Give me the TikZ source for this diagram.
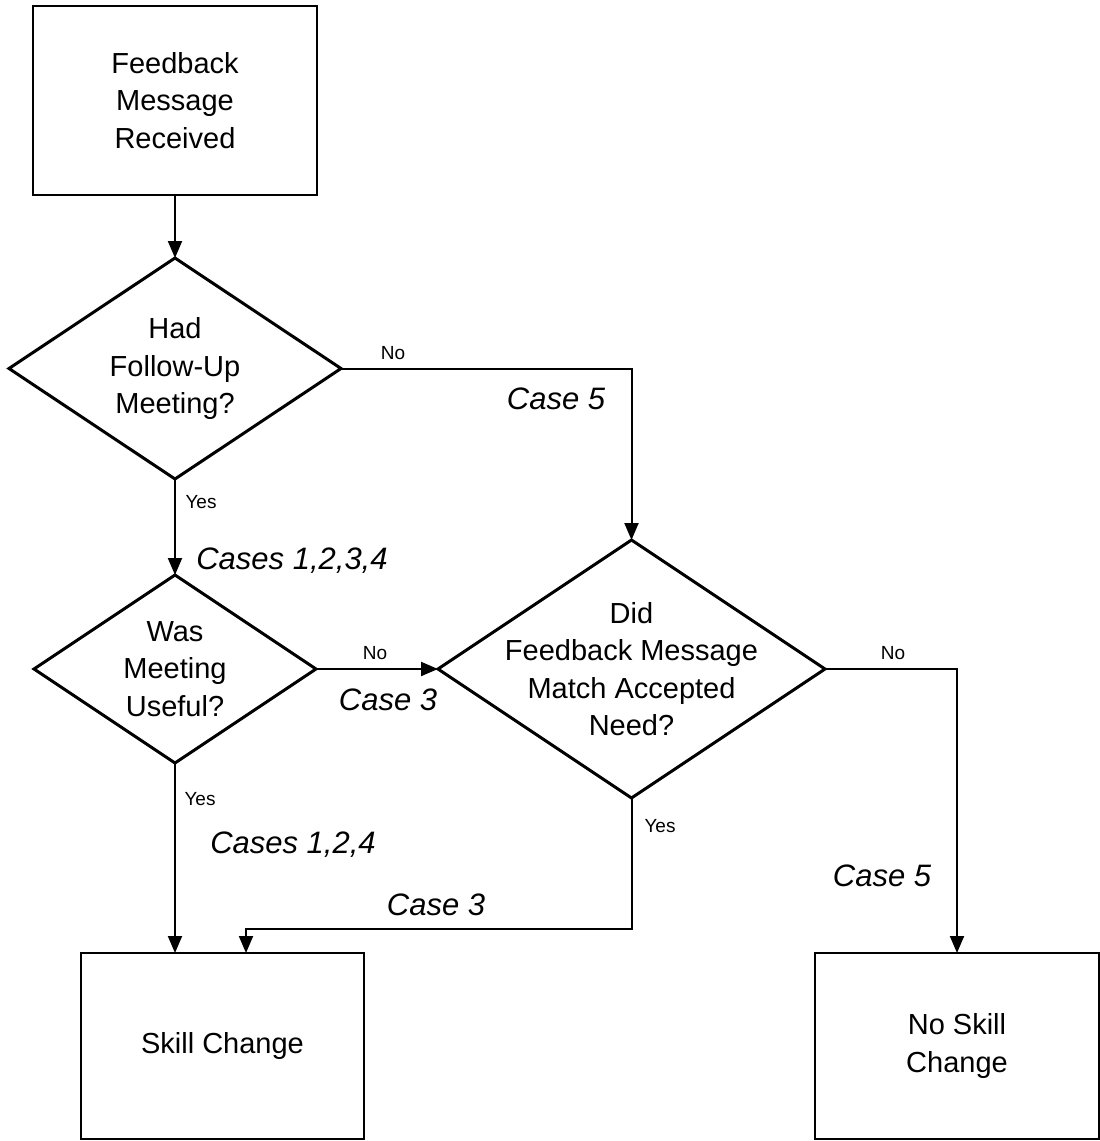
\documentclass[tikz,border=0pt]{standalone}
\usepackage{fontspec}
\setmainfont{Liberation Sans}
\usetikzlibrary{shapes.geometric,arrows.meta,calc}
\newcommand{\fbodytxt}{\fontsize{29}{37.5}\selectfont}
\newcommand{\flabtxt}{\fontsize{31}{37}\selectfont\itshape}
\newcommand{\fsmalltxt}{\fontsize{19}{22}\selectfont}
\begin{document}
\begin{tikzpicture}[x=1pt,y=-1pt,
  box/.style={draw, line width=2.5pt, rectangle, inner sep=0pt, outer sep=0pt, align=center, font=\fbodytxt},
  dia/.style={draw, line width=3pt, diamond, inner sep=0pt, outer sep=0pt},
  txt/.style={align=center, font=\fbodytxt, inner sep=0pt},
  arr/.style={line width=2pt, -{Triangle[length=17pt,width=14pt]}},
  lab/.style={font=\flabtxt, inner sep=0pt},
  small/.style={font=\fsmalltxt, inner sep=0pt}]
\useasboundingbox (0,0) rectangle (1100,1141);
\fill[white] (0,0) rectangle (1100,1141);

% boxes
\node[box, minimum width=284pt, minimum height=189pt] (start) at (175,100.5) {Feedback\\Message\\Received};
\node[box, minimum width=283pt, minimum height=186pt] (sc) at (222.5,1046) {Skill Change};
\node[box, minimum width=284pt, minimum height=186pt] (nsc) at (957,1046) {No Skill\\Change};

% diamonds
\node[dia, minimum width=332pt, minimum height=221pt] (d1) at (175,368.5) {};
\node[txt] (t1) at (d1.center) {Had\\Follow-Up\\Meeting?};
\node[dia, minimum width=282pt, minimum height=188pt] (d2) at (175,669) {};
\node[txt] (t2) at (d2.center) {Was\\Meeting\\Useful?};
\node[dia, minimum width=387pt, minimum height=258pt] (d3) at (631.5,669) {};
\node[txt] (t3) at (d3.center) {Did\\Feedback Message\\Match Accepted\\Need?};

% connectors
\draw[arr] (start.south) -- (d1.north);
\draw[arr] (d1.east) -| (d3.north);
\draw[arr] (d1.south) -- (d2.north);
\draw[arr] (d2.east) -- (d3.west);
\draw[arr] (d3.east) -| (nsc.north);
\draw[arr] (d2.south) -- (d2.south |- sc.north);
\coordinate (sc3) at (246,953);
\draw[arr] (d3.south) |- ($(sc3)+(0,-24)$) -- (sc3);

% labels
\node[small] (l1) at (393,353) {No};
\node[lab] (l2) at (556,399) {Case 5};
\node[small] (l3) at (201,502) {Yes};
\node[lab] (l4) at (292,561) {Cases 1,2,3,4};
\node[small] (l5) at (375,653) {No};
\node[lab] (l6) at (388,700) {Case 3};
\node[small] (l7) at (200,799) {Yes};
\node[lab] (l8) at (293,845) {Cases 1,2,4};
\node[small] (l9) at (893,653) {No};
\node[small] (l10) at (660,826) {Yes};
\node[lab] (l11) at (882,876) {Case 5};
\node[lab] (l12) at (436,905) {Case 3};
\end{tikzpicture}
\end{document}
